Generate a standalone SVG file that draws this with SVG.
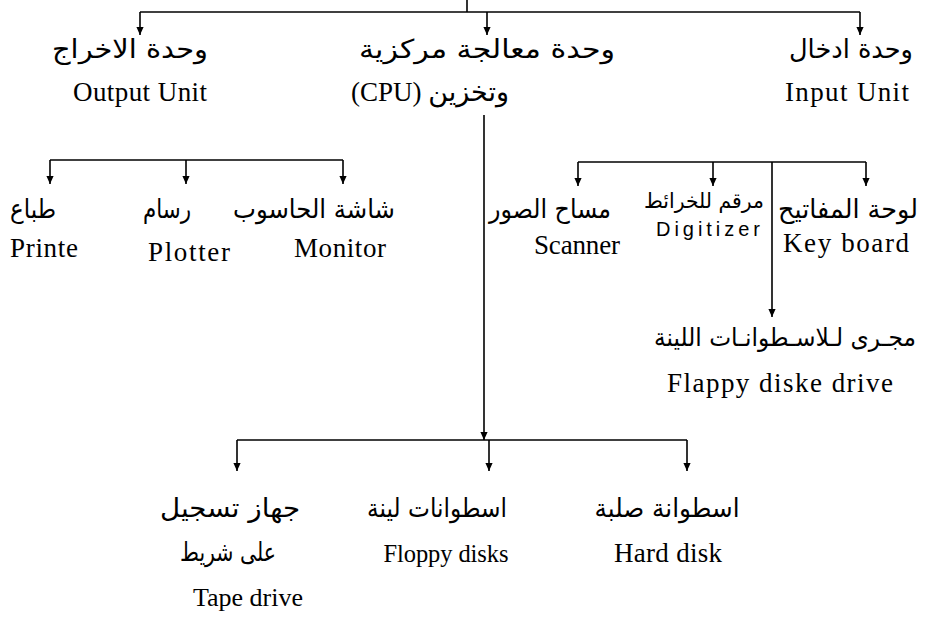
<svg xmlns="http://www.w3.org/2000/svg" width="935" height="629" viewBox="0 0 935 629">
<style>
.ln{stroke:#000;stroke-width:1.6;fill:none}
.ar{stroke:#000;stroke-width:1.6;fill:none;marker-end:url(#ah)}
.ab{font-family:"DejaVu Sans",sans-serif;font-size:26px;fill:#000;text-anchor:middle}
.en{font-family:"Liberation Serif",serif;font-size:27px;fill:#000;text-anchor:middle}
.dg{font-family:"Liberation Sans",sans-serif;font-size:20px;fill:#000;text-anchor:middle}
</style>
<defs>
<marker id="ah" viewBox="0 0 10 10" refX="10" refY="5" markerWidth="11" markerHeight="8" markerUnits="userSpaceOnUse" orient="auto">
<path d="M0,0.5 L10,5 L0,9.5 z" fill="#000"/>
</marker>
</defs>
<g id="connectors">
<path class="ln" d="M467,0 V12"/>
<path class="ln" d="M140,12 H860"/>
<path class="ar" d="M140,12 V35"/>
<path class="ar" d="M487,12 V35"/>
<path class="ar" d="M860,12 V35"/>
<path class="ln" d="M50,160 H343"/>
<path class="ar" d="M50,160 V184"/>
<path class="ar" d="M186,160 V184"/>
<path class="ar" d="M343,160 V184"/>
<path class="ln" d="M578,162 H866"/>
<path class="ar" d="M578,162 V186"/>
<path class="ar" d="M713,162 V186"/>
<path class="ar" d="M866,162 V186"/>
<path class="ar" d="M772,162 V317"/>
<path class="ar" d="M484,115 V440"/>
<path class="ln" d="M237,440 H687"/>
<path class="ar" d="M237,440 V471"/>
<path class="ar" d="M489,440 V471"/>
<path class="ar" d="M687,440 V471"/>
</g>
<g id="output-unit">
<text class="ab" x="130" y="58" textLength="156" lengthAdjust="spacingAndGlyphs">وحدة الاخراج</text>
<text class="en" x="140" y="101" textLength="134">Output Unit</text>
</g>
<g id="cpu">
<text class="ab" x="487" y="58" textLength="256" lengthAdjust="spacingAndGlyphs">وحدة معالجة مركزية</text>
<text class="en" x="430" y="101" direction="ltr" style="font-family:'Liberation Serif','DejaVu Sans',serif">(CPU) وتخزين</text>
</g>
<g id="input-unit">
<text class="ab" x="851" y="58" textLength="124" lengthAdjust="spacingAndGlyphs">وحدة ادخال</text>
<text class="en" x="847" y="101" textLength="124">Input Unit</text>
</g>
<g id="printer">
<text class="ab" x="33" y="218" textLength="46" lengthAdjust="spacingAndGlyphs">طباع</text>
<text class="en" x="44" y="257" textLength="68">Printe</text>
</g>
<g id="plotter">
<text class="ab" x="167" y="218" textLength="48" lengthAdjust="spacingAndGlyphs">رسام</text>
<text class="en" x="189" y="261" textLength="82">Plotter</text>
</g>
<g id="monitor">
<text class="ab" x="314" y="218" textLength="162" lengthAdjust="spacingAndGlyphs">شاشة الحاسوب</text>
<text class="en" x="340" y="257" textLength="92">Monitor</text>
</g>
<g id="scanner">
<text class="ab" x="550" y="218" textLength="122" lengthAdjust="spacingAndGlyphs">مساح الصور</text>
<text class="en" x="577" y="254" textLength="86">Scanner</text>
</g>
<g id="digitizer">
<text class="ab" x="704" y="208" style="font-size:21px" textLength="120" lengthAdjust="spacingAndGlyphs">مرقم للخرائط</text>
<text class="dg" x="708" y="236" textLength="104">Digitizer</text>
</g>
<g id="keyboard">
<text class="ab" x="848" y="218" textLength="140" lengthAdjust="spacingAndGlyphs">لوحة المفاتيح</text>
<text class="en" x="846" y="252" textLength="126">Key board</text>
</g>
<g id="floppy-drive">
<text class="ab" x="785" y="346" style="font-size:24.5px" textLength="262" lengthAdjust="spacingAndGlyphs">مجـرى لـلاسـطوانـات اللينة</text>
<text class="en" x="780" y="392" textLength="226">Flappy diske drive</text>
</g>
<g id="tape-drive">
<text class="ab" x="230" y="517" textLength="140" lengthAdjust="spacingAndGlyphs">جهاز تسجيل</text>
<text class="ab" x="228" y="561" textLength="96" lengthAdjust="spacingAndGlyphs">على شريط</text>
<text class="en" x="248" y="606" style="font-size:26px" textLength="110">Tape drive</text>
</g>
<g id="floppy-disks">
<text class="ab" x="437" y="517" textLength="140" lengthAdjust="spacingAndGlyphs">اسطوانات لينة</text>
<text class="en" x="446" y="562" style="font-size:24.5px" textLength="125">Floppy disks</text>
</g>
<g id="hard-disk">
<text class="ab" x="667" y="517" textLength="145" lengthAdjust="spacingAndGlyphs">اسطوانة صلبة</text>
<text class="en" x="668" y="562" textLength="108">Hard disk</text>
</g>
</svg>
